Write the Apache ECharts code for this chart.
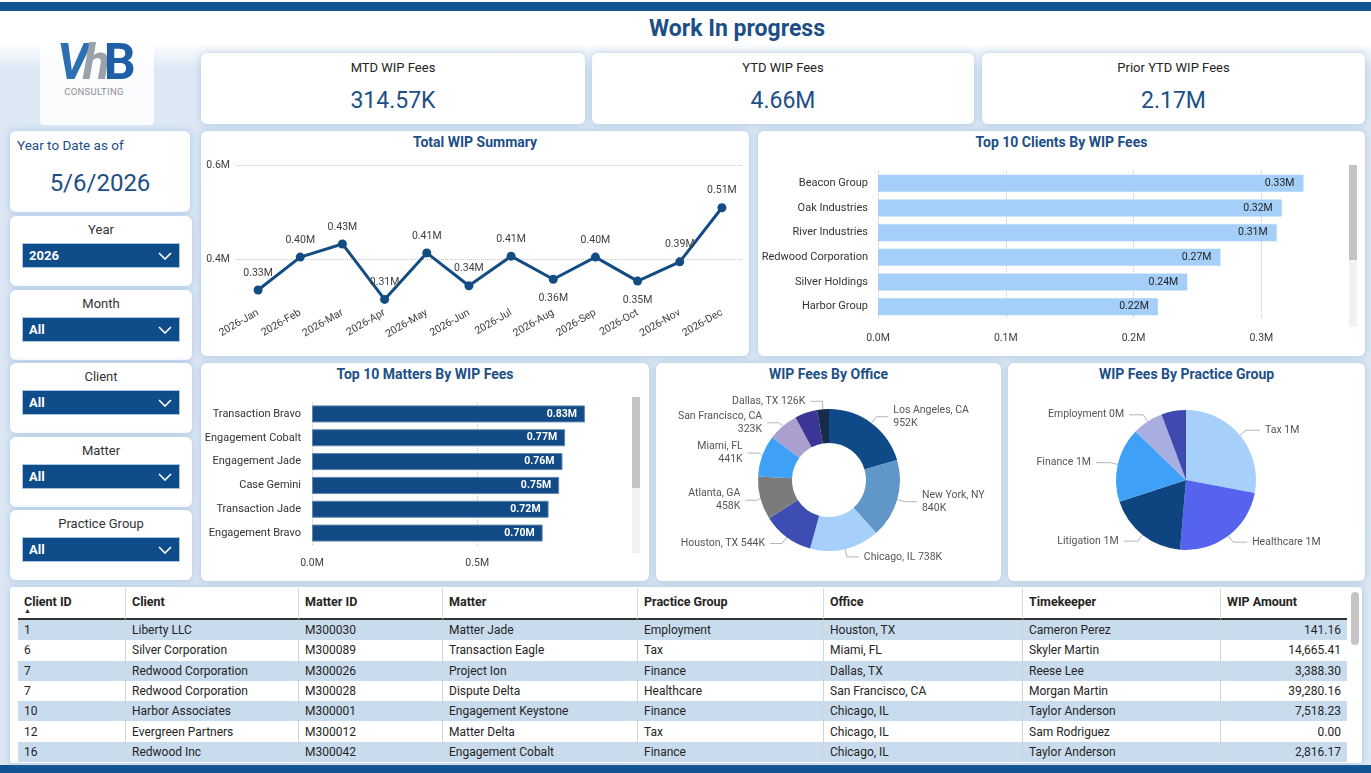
<!DOCTYPE html>
<html>
<head>
<meta charset="utf-8">
<title>Work In progress</title>
<script src="https://cdn.jsdelivr.net/npm/echarts@6/dist/echarts.min.js"></script>
<style>
  html, body { margin: 0; padding: 0; }
  body {
    width: 1371px; height: 773px; position: relative; overflow: hidden;
    font-family: Roboto, "Noto Sans", sans-serif; color: #252423;
    background: linear-gradient(to bottom, #ffffff 0px, #ffffff 42px, #dce8f4 70px, #dbe7f3 100%);
  }
  .bar { position: absolute; left: 0; width: 1371px; background: #0f5391; }
  .card {
    position: absolute; background: #fff; border-radius: 6px;
    box-shadow: 0 0 6px 1px rgba(120, 160, 210, 0.35);
  }
  .kpi-label { position: absolute; left: 0; right: 0; top: 7px; text-align: center; font-size: 13px; color: #252423; }
  .kpi-value { position: absolute; left: 0; right: 0; top: 34px; text-align: center; font-size: 23px; color: #1d4f86; }
  .ctitle { position: absolute; left: 0; right: 0; top: 3px; text-align: center; font-size: 14px; font-weight: bold; color: #1d4f86; }
  .slabel { position: absolute; left: 0; right: 0; text-align: center; font-size: 13px; color: #333; }
  .dd {
    position: absolute; left: 12px; width: 158px; height: 25px; background: #0f4c8a;
    border: 1px solid #a9c5e2; box-sizing: border-box; color: #fff; font-weight: bold; font-size: 13px;
  }
  .dd span { position: absolute; left: 6px; top: 4px; }
  .dd svg { position: absolute; right: 7px; top: 8px; }
  .sb { position: absolute; width: 8px; background: #f2f2f2; }
  .sb div { position: absolute; left: 0; top: 0; width: 8px; background: #c4c4c4; }
  table { border-collapse: separate; border-spacing: 0; table-layout: fixed; position: absolute; left: 18px; top: 588px; font-size: 12px; }
  th { height: 32px; box-sizing: border-box; font-weight: bold; text-align: left; vertical-align: top; padding: 6px 0 0 6px; border-left: 1px solid #dadada; border-bottom: 2px solid #333; font-size: 12.5px; position: relative; }
  th:first-child, td:first-child { border-left: none; }
  td { height: 20.3px; box-sizing: border-box; line-height: 18px; padding: 0 0 0 6px; border-left: 1px solid #d4d4d4; white-space: nowrap; overflow: hidden; }
  tr.band td { background: #c9dcee; }
  td.num { text-align: right; padding-right: 6px; }
  #chart { position: absolute; left: 0; top: 0; width: 1371px; height: 773px; }
</style>
</head>
<body>
<div class="bar" style="top:2px;height:9px"></div>
<div class="bar" style="top:765px;height:8px"></div>

<div style="position:absolute;left:0;width:1371px;top:15px;text-align:center;font-size:23px;font-weight:bold;color:#1d4f86;padding-left:103px;box-sizing:border-box">Work In progress</div>

<!-- logo -->
<div style="position:absolute;left:40px;top:33px;width:114px;height:92px;background:rgba(255,255,255,0.85);border-radius:4px"></div>
<div style="position:absolute;left:57px;top:37px;width:75px;font-size:50px;font-weight:bold;letter-spacing:-6px;line-height:50px;font-style:italic">
  <span style="color:#2d6fb3">V</span><span style="color:#9aa1a8">h</span><span style="color:#1f5fa8;font-style:normal">B</span>
</div>
<div style="position:absolute;left:57px;top:86px;width:74px;text-align:center;font-size:9.5px;color:#8f8f8f;letter-spacing:0.3px">CONSULTING</div>

<!-- KPI cards -->
<div class="card" style="left:201px;top:53px;width:384px;height:71px"><div class="kpi-label">MTD WIP Fees</div><div class="kpi-value" id="kpi1"></div></div>
<div class="card" style="left:592px;top:53px;width:382px;height:71px"><div class="kpi-label">YTD WIP Fees</div><div class="kpi-value" id="kpi2"></div></div>
<div class="card" style="left:982px;top:53px;width:383px;height:71px"><div class="kpi-label">Prior YTD WIP Fees</div><div class="kpi-value" id="kpi3"></div></div>

<!-- left slicers -->
<div class="card" style="left:10px;top:131px;width:180px;height:81px">
  <div style="position:absolute;left:7px;top:6px;font-size:13.5px;color:#1d4f86">Year to Date as of</div>
  <div style="position:absolute;left:0;right:0;top:38px;text-align:center;font-size:24px;color:#1d4f86" id="asof"></div>
</div>
<div id="slicers"></div>

<!-- chart cards -->
<div class="card" style="left:201px;top:131px;width:548px;height:225px"><div class="ctitle">Total WIP Summary</div></div>
<div class="card" style="left:758px;top:131px;width:607px;height:225px"><div class="ctitle">Top 10 Clients By WIP Fees</div></div>
<div class="card" style="left:201px;top:363px;width:448px;height:218px"><div class="ctitle">Top 10 Matters By WIP Fees</div></div>
<div class="card" style="left:656px;top:363px;width:345px;height:218px"><div class="ctitle">WIP Fees By Office</div></div>
<div class="card" style="left:1008px;top:363px;width:357px;height:218px"><div class="ctitle">WIP Fees By Practice Group</div></div>

<div class="sb" style="left:1349px;top:165px;height:162px"><div style="height:95px"></div></div>
<div class="sb" style="left:632px;top:397px;height:156px"><div style="height:91px"></div></div>

<!-- table -->
<div class="card" style="left:10px;top:587px;width:1352px;height:176px;border-radius:3px"></div>
<table id="tbl"></table>
<div style="position:absolute;left:1351px;top:592px;width:8px;height:53px;border-radius:4px;background:#c4c4c4"></div>

<div id="chart"></div>

<script>
// ---- data ----
const kpiLabels = ['314.57K', '4.66M', '2.17M'];
const asOfDate = '5/6/2026';

const slicerNames = ['Year', 'Month', 'Client', 'Matter', 'Practice Group'];
const slicerValues = ['2026', 'All', 'All', 'All', 'All'];

const months = ['2026-Jan', '2026-Feb', '2026-Mar', '2026-Apr', '2026-May', '2026-Jun',
                '2026-Jul', '2026-Aug', '2026-Sep', '2026-Oct', '2026-Nov', '2026-Dec'];
const wipByMonth = [334000, 404000, 432000, 314000, 413000, 343000,
                    406000, 357000, 404000, 353000, 394000, 509000];

const clientNames = ['Beacon Group', 'Oak Industries', 'River Industries', 'Redwood Corporation', 'Silver Holdings', 'Harbor Group'];
const clientWip = [333000, 316000, 312000, 268000, 242000, 219000];

const matterNames = ['Transaction Bravo', 'Engagement Cobalt', 'Engagement Jade', 'Case Gemini', 'Transaction Jade', 'Engagement Bravo'];
const matterWip = [826000, 766000, 758000, 748000, 716000, 698000];

const officeNames = ['Los Angeles, CA', 'New York, NY', 'Chicago, IL', 'Houston, TX', 'Atlanta, GA', 'Miami, FL', 'San Francisco, CA', 'Other', 'Dallas, TX'];
const officeWip = [952000, 840000, 738000, 544000, 458000, 441000, 323000, 238000, 126000];

const practiceNames = ['Tax', 'Healthcare', 'Litigation', 'Finance', 'Employment', 'Other'];
const practiceWip = [1305000, 1090000, 867000, 803000, 333000, 265000];

const tableCols = ['Client ID', 'Client', 'Matter ID', 'Matter', 'Practice Group', 'Office', 'Timekeeper', 'WIP Amount'];
const tClientId = ['1', '6', '7', '7', '10', '12', '16'];
const tClient = ['Liberty LLC', 'Silver Corporation', 'Redwood Corporation', 'Redwood Corporation', 'Harbor Associates', 'Evergreen Partners', 'Redwood Inc'];
const tMatterId = ['M300030', 'M300089', 'M300026', 'M300028', 'M300001', 'M300012', 'M300042'];
const tMatter = ['Matter Jade', 'Transaction Eagle', 'Project Ion', 'Dispute Delta', 'Engagement Keystone', 'Matter Delta', 'Engagement Cobalt'];
const tPractice = ['Employment', 'Tax', 'Finance', 'Healthcare', 'Finance', 'Tax', 'Finance'];
const tOffice = ['Houston, TX', 'Miami, FL', 'Dallas, TX', 'San Francisco, CA', 'Chicago, IL', 'Chicago, IL', 'Chicago, IL'];
const tKeeper = ['Cameron Perez', 'Skyler Martin', 'Reese Lee', 'Morgan Martin', 'Taylor Anderson', 'Sam Rodriguez', 'Taylor Anderson'];
const tAmount = [141.16, 14665.41, 3388.30, 39280.16, 7518.23, 0.00, 2816.17];

// ---- html parts ----
['kpi1', 'kpi2', 'kpi3'].forEach((id, i) => document.getElementById(id).textContent = kpiLabels[i]);
document.getElementById('asof').textContent = asOfDate;

const slicerTops = [216, 290, 363, 437, 510];
const chevron = '<svg width="14" height="8"><polyline points="1,1 7,7 13,1" fill="none" stroke="#fff" stroke-width="1.6"/></svg>';
document.getElementById('slicers').innerHTML = slicerNames.map((n, i) =>
  `<div class="card" style="left:10px;top:${slicerTops[i]}px;width:182px;height:70px">
     <div class="slabel" style="top:6px">${n}</div>
     <div class="dd" style="top:27px"><span>${slicerValues[i]}</span>${chevron}</div>
   </div>`).join('');

const colW = [107, 173, 144, 195, 186, 199, 198, 127];
let th = '<colgroup>' + colW.map(w => `<col style="width:${w}px">`).join('') + '</colgroup><tr>';
th += tableCols.map((c, i) => `<th>${c}${i === 0 ? '<div style="position:absolute;left:6px;top:19px;font-size:7px">&#9650;</div>' : ''}</th>`).join('') + '</tr>';
const fmtAmt = v => v.toLocaleString('en-US', {minimumFractionDigits: 2, maximumFractionDigits: 2});
for (let i = 0; i < tClientId.length; i++) {
  th += `<tr class="${i % 2 === 0 ? 'band' : ''}"><td>${tClientId[i]}</td><td>${tClient[i]}</td><td>${tMatterId[i]}</td><td>${tMatter[i]}</td><td>${tPractice[i]}</td><td>${tOffice[i]}</td><td>${tKeeper[i]}</td><td class="num">${fmtAmt(tAmount[i])}</td></tr>`;
}
document.getElementById('tbl').innerHTML = th;

// ---- charts ----
const officeColors = ['#0e4a87', '#6196c9', '#a6d0fa', '#3e4db3', '#7b7b7b', '#3ea1f6', '#ab9fd0', '#3a3597', '#172b4b'];
const practiceColors = ['#a6d0fa', '#5563ee', '#0e4580', '#3ea0f7', '#a9aee0', '#3f49b0'];
const officeTwoLine = ['Los Angeles, CA', 'New York, NY', 'Atlanta, GA', 'Miami, FL', 'San Francisco, CA'];
const lineBelow = ['2026-Aug', '2026-Oct'];

const txt = '#404040';
const fontF = 'Roboto';
const M = v => (v / 1e6).toFixed(2) + 'M';
const M1 = v => (v / 1e6).toFixed(1) + 'M';

const chart = echarts.init(document.getElementById('chart'), null, {renderer: 'canvas'});
chart.setOption({
  animation: false,
  textStyle: {fontFamily: fontF},
  grid: [
    {left: 237, top: 165, width: 506, height: 141},
    {left: 878, top: 171, width: 460, height: 148},
    {left: 312, top: 402, width: 304, height: 143}
  ],
  xAxis: [
    {gridIndex: 0, type: 'category', data: months, boundaryGap: true,
     axisLine: {show: false}, axisTick: {show: false},
     axisLabel: {rotate: 30, interval: 0, margin: 6, fontSize: 10.5, color: txt}},
    {gridIndex: 1, type: 'value', min: 0, max: 360000, interval: 100000,
     axisLine: {show: false}, axisTick: {show: false},
     axisLabel: {formatter: M1, fontSize: 10.5, color: txt, margin: 14, showMaxLabel: false},
     splitLine: {lineStyle: {type: 'dotted', color: ['#c8c8c8', '#c8c8c8', '#c8c8c8', '#c8c8c8', 'rgba(0,0,0,0)']}}},
    {gridIndex: 2, type: 'value', min: 0, max: 920000, interval: 500000,
     axisLine: {show: false}, axisTick: {show: false},
     axisLabel: {formatter: M1, fontSize: 10.5, color: txt, margin: 13, showMaxLabel: false},
     splitLine: {lineStyle: {type: 'dotted', color: ['#c8c8c8', '#c8c8c8', 'rgba(0,0,0,0)']}}}
  ],
  yAxis: [
    {gridIndex: 0, type: 'value', min: 300000, max: 600000, interval: 100000,
     axisLine: {show: false}, axisTick: {show: false},
     axisLabel: {fontSize: 10.5, color: txt, margin: 7,
       formatter: v => (Math.round(v / 100000) % 2 === 0 ? M1(v) : '')},
     splitLine: {lineStyle: {type: 'dotted', color: ['rgba(0,0,0,0)', '#c8c8c8', 'rgba(0,0,0,0)', '#c8c8c8']}}},
    {gridIndex: 1, type: 'category', data: clientNames, inverse: true,
     axisLine: {show: false}, axisTick: {show: false},
     axisLabel: {fontSize: 11, color: '#333', margin: 10}},
    {gridIndex: 2, type: 'category', data: matterNames, inverse: true,
     axisLine: {show: false}, axisTick: {show: false},
     axisLabel: {fontSize: 11, color: '#333', margin: 11}}
  ],
  series: [
    {type: 'line', xAxisIndex: 0, yAxisIndex: 0,
     data: wipByMonth.map((v, i) => ({value: v, label: {position: lineBelow.includes(months[i]) ? 'bottom' : 'top', distance: lineBelow.includes(months[i]) ? 9 : 7}})),
     symbol: 'circle', symbolSize: 9,
     lineStyle: {color: '#134c82', width: 3}, itemStyle: {color: '#134c82'},
     label: {show: true, formatter: p => M(p.value), fontSize: 10.5, color: txt}},
    {type: 'bar', xAxisIndex: 1, yAxisIndex: 1, data: clientWip, barWidth: 17,
     itemStyle: {color: '#a3cff9'},
     label: {show: true, position: 'insideRight', distance: 9, formatter: p => M(p.value), fontSize: 10.5, color: '#252423'}},
    {type: 'bar', xAxisIndex: 2, yAxisIndex: 2, data: matterWip, barWidth: 17,
     itemStyle: {color: '#114a84', borderColor: '#5f86b0', borderWidth: 1},
     label: {show: true, position: 'insideRight', distance: 8, formatter: p => M(p.value), fontSize: 10.5, fontWeight: 'bold', color: '#fff'}},
    {type: 'pie', center: [829, 480], radius: [37, 71], startAngle: 90, clockwise: true,
     data: officeNames.map((n, i) => ({name: n, value: officeWip[i], itemStyle: {color: officeColors[i]},
       label: {show: n !== 'Other'}, labelLine: {show: n !== 'Other'}})),
     label: {fontSize: 10.5, color: '#555', lineHeight: 13,
       formatter: p => officeTwoLine.includes(p.name) ? p.name + '\n' + Math.round(p.value / 1000) + 'K' : p.name + ' ' + Math.round(p.value / 1000) + 'K'},
     labelLine: {length: 8, length2: 12, lineStyle: {color: '#b5b5b5', width: 1}}},
    {type: 'pie', center: [1186, 480], radius: [0, 70], startAngle: 90, clockwise: true,
     data: practiceNames.map((n, i) => ({name: n, value: practiceWip[i], itemStyle: {color: practiceColors[i]},
       label: {show: n !== 'Other'}, labelLine: {show: n !== 'Other'}})),
     label: {fontSize: 10.5, color: '#555',
       formatter: p => p.name + ' ' + Math.round(p.value / 1e6) + 'M'},
     labelLine: {length: 8, length2: 14, lineStyle: {color: '#b5b5b5', width: 1}}}
  ]
});
</script>
</body>
</html>
